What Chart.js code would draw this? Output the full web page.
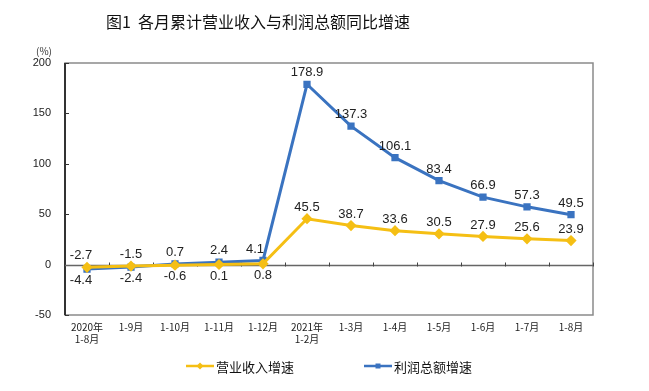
<!DOCTYPE html>
<html>
<head>
<meta charset="utf-8">
<script src="https://cdn.jsdelivr.net/npm/chart.js@4"></script>
<style>
  html, body { margin: 0; padding: 0; background: #fff; }
  #wrap { width: 649px; height: 391px; position: relative; }
</style>
</head>
<body>
<div id="wrap"><canvas id="chart" width="649" height="391"></canvas></div>
<script>
// Data
const categories = [
  ['2020年', '1-8月'], '1-9月', '1-10月', '1-11月', '1-12月',
  ['2021年', '1-2月'], '1-3月', '1-4月', '1-5月', '1-6月', '1-7月', '1-8月'
];
const revenueGrowth = [-2.7, -1.5, -0.6, 0.1, 0.8, 45.5, 38.7, 33.6, 30.5, 27.9, 25.6, 23.9];
const profitGrowth = [-4.4, -2.4, 0.7, 2.4, 4.1, 178.9, 137.3, 106.1, 83.4, 66.9, 57.3, 49.5];
// label above (true) or below (false) each point
const revenueLabelAbove = [true, true, false, false, false, true, true, true, true, true, true, true];
const profitLabelAbove = [false, false, true, true, true, true, true, true, true, true, true, true];
const yTicks = [-50, 0, 50, 100, 150, 200];

const title = '图1  各月累计营业收入与利润总额同比增速';
const yellow = '#f5bf14';
const blue = '#3a73c0';

// Draws frame, zero line, value labels, title and legend
const decorPlugin = {
  id: 'decor',
  beforeDatasetsDraw(chart) {
    const ctx = chart.ctx;
    const a = chart.chartArea;
    const y = chart.scales.y;
    ctx.save();
    // gray frame
    ctx.strokeStyle = '#8a8a8a';
    ctx.lineWidth = 1.5;
    ctx.strokeRect(a.left, a.top, a.right - a.left, a.bottom - a.top);
    // left axis
    ctx.strokeStyle = '#333';
    ctx.lineWidth = 2;
    ctx.beginPath();
    ctx.moveTo(a.left, a.top);
    ctx.lineTo(a.left, a.bottom);
    ctx.stroke();
    // y ticks (inside)
    ctx.lineWidth = 1;
    yTicks.forEach((v) => {
      const py = Math.round(y.getPixelForValue(v)) + 0.5;
      ctx.beginPath();
      ctx.moveTo(a.left, py);
      ctx.lineTo(a.left + 4, py);
      ctx.stroke();
    });
    // zero line with category ticks
    const zy = Math.round(y.getPixelForValue(0)) + 0.5;
    ctx.strokeStyle = '#666';
    ctx.lineWidth = 1.5;
    ctx.beginPath();
    ctx.moveTo(a.left, zy);
    ctx.lineTo(a.right, zy);
    ctx.stroke();
    ctx.strokeStyle = '#444';
    ctx.lineWidth = 1;
    const step = (a.right - a.left) / categories.length;
    for (let i = 1; i <= categories.length; i++) {
      const px = Math.round(a.left + i * step) + 0.5;
      ctx.beginPath();
      ctx.moveTo(px, zy - 3);
      ctx.lineTo(px, zy + 1);
      ctx.stroke();
    }
    ctx.restore();
  },
  afterDatasetsDraw(chart) {
    const ctx = chart.ctx;
    ctx.save();
    ctx.font = '13px "Liberation Sans", Arial, sans-serif';
    ctx.fillStyle = '#222';
    ctx.textAlign = 'center';
    const sets = [
      { idx: 0, data: revenueGrowth, above: revenueLabelAbove },
      { idx: 1, data: profitGrowth, above: profitLabelAbove },
    ];
    sets.forEach((s) => {
      const meta = chart.getDatasetMeta(s.idx);
      meta.data.forEach((pt, i) => {
        // nudge labels near the steep rise so they clear the line
        let dx = 0;
        if (s.idx === 1 && i === 4) dx = -8;
        if (i === 0) dx = -6;
        if (s.above[i]) {
          ctx.textBaseline = 'bottom';
          ctx.fillText(s.data[i].toFixed(1), pt.x + dx, pt.y - 5);
        } else {
          ctx.textBaseline = 'top';
          ctx.fillText(s.data[i].toFixed(1), pt.x + dx, pt.y + 5);
        }
      });
    });

    // title
    ctx.fillStyle = '#111';
    ctx.textAlign = 'center';
    ctx.textBaseline = 'middle';
    ctx.font = '16px "Noto Sans CJK SC", sans-serif';
    ctx.fillText(title, 258, 22);

    // unit
    ctx.font = '10px "Noto Sans CJK SC", sans-serif';
    ctx.fillStyle = '#333';
    ctx.fillText('(%)', 44, 51);

    // legend
    const legend = [
      { x: 186, text: '营业收入增速', color: yellow, style: 'diamond' },
      { x: 364, text: '利润总额增速', color: blue, style: 'square' },
    ];
    ctx.font = '13px "Noto Sans CJK SC", sans-serif';
    ctx.textAlign = 'left';
    legend.forEach((l) => {
      const ly = 366;
      ctx.strokeStyle = l.color;
      ctx.fillStyle = l.color;
      ctx.lineWidth = 2.5;
      ctx.beginPath();
      ctx.moveTo(l.x, ly);
      ctx.lineTo(l.x + 28, ly);
      ctx.stroke();
      const cx = l.x + 14;
      ctx.beginPath();
      if (l.style === 'diamond') {
        ctx.moveTo(cx, ly - 3.5);
        ctx.lineTo(cx + 3.5, ly);
        ctx.lineTo(cx, ly + 3.5);
        ctx.lineTo(cx - 3.5, ly);
      } else {
        ctx.rect(cx - 2.5, ly - 2.5, 5, 5);
      }
      ctx.fill();
      ctx.fillStyle = '#111';
      ctx.fillText(l.text, l.x + 30, ly + 1);
    });
    ctx.restore();
  },
};

new Chart(document.getElementById('chart'), {
  type: 'line',
  data: {
    labels: categories,
    datasets: [
      {
        label: '营业收入增速',
        data: revenueGrowth,
        borderColor: yellow,
        backgroundColor: yellow,
        borderWidth: 3,
        pointStyle: 'rectRot',
        pointRadius: 3.5,
        tension: 0,
      },
      {
        label: '利润总额增速',
        data: profitGrowth,
        borderColor: blue,
        backgroundColor: blue,
        borderWidth: 3,
        pointStyle: 'rect',
        pointRadius: 3,
        tension: 0,
      },
    ],
  },
  options: {
    responsive: false,
    animation: false,
    maintainAspectRatio: false,
    layout: {
      padding: { left: 0, right: 56, top: 63, bottom: 40 },
    },
    plugins: {
      legend: { display: false },
      title: { display: false },
      tooltip: { enabled: false },
    },
    scales: {
      x: {
        offset: true,
        grid: { display: false, drawTicks: false },
        border: { display: false },
        ticks: {
          color: '#222',
          font: { size: 10, family: '"Noto Sans CJK SC", sans-serif' },
          padding: 6,
          maxRotation: 0,
          autoSkip: false,
        },
      },
      y: {
        min: -50,
        max: 200,
        afterFit(scale) {
          scale.width = 65;
        },
        grid: { display: false, drawTicks: false },
        border: { display: false },
        ticks: {
          stepSize: 50,
          color: '#222',
          padding: 14,
          font: { size: 11, family: '"Liberation Sans", Arial, sans-serif' },
        },
      },
    },
  },
  plugins: [decorPlugin],
});
</script>
</body>
</html>
